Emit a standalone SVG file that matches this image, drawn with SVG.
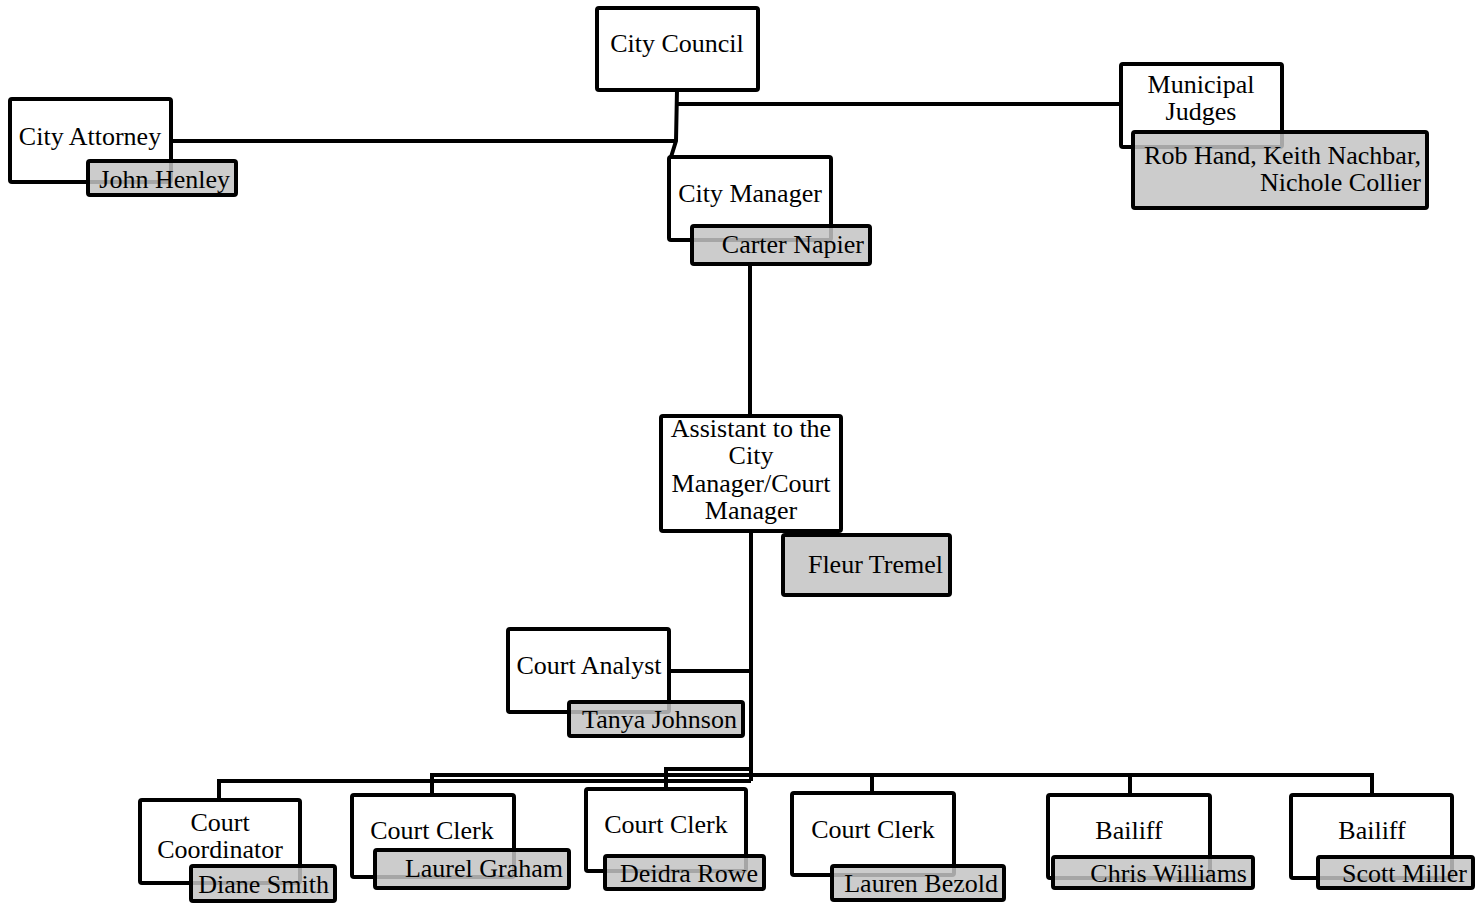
<svg xmlns="http://www.w3.org/2000/svg" width="1483" height="903" viewBox="0 0 1483 903">
<style>
.box{fill:#fff;stroke:#000;stroke-width:4}
.name{fill:#c3c3c3;fill-opacity:0.85;stroke:#000;stroke-width:4}
.t{font-family:"Liberation Serif","Times New Roman",serif;font-size:26px;fill:#000}
.c{text-anchor:middle}
.e{text-anchor:end}
.ln{fill:none;stroke:#000;stroke-width:4}
</style>
<rect width="1483" height="903" fill="#fff"/>
<g id="connectors">
<path class="ln" d="M677 90 L676 141 L671 157"/>
<path class="ln" d="M171 141 H676"/>
<path class="ln" d="M677 104 H1121"/>
<path class="ln" d="M750 264 V416"/>
<path class="ln" d="M751 531 V781"/>
<path class="ln" d="M669 671 H751"/>
<path class="ln" d="M219 800 V781 H751"/>
<path class="ln" d="M432 795 V775 H751"/>
<path class="ln" d="M666 789 V769 H751"/>
<path class="ln" d="M751 775 H1372 V795"/>
<path class="ln" d="M872 775 V793"/>
<path class="ln" d="M1130 775 V795"/>
</g>
<g id="city-council">
<rect class="box" x="597" y="8" width="161" height="82" rx="2"/>
<text class="t c" x="677" y="52">City Council</text>
</g>
<g id="city-attorney">
<rect class="box" x="10" y="99" width="161" height="83" rx="2"/>
<text class="t c" x="90" y="145">City Attorney</text>
<rect class="name" x="88" y="161" width="148" height="34" rx="2"/>
<text class="t e" x="230" y="188">John Henley</text>
</g>
<g id="municipal-judges">
<rect class="box" x="1121" y="64" width="161" height="83" rx="2"/>
<text class="t c" x="1201" y="93">Municipal</text>
<text class="t c" x="1201" y="120">Judges</text>
<rect class="name" x="1133" y="132" width="294" height="76" rx="2"/>
<text class="t e" x="1421" y="164">Rob Hand, Keith Nachbar,</text>
<text class="t e" x="1421" y="191">Nichole Collier</text>
</g>
<g id="city-manager">
<rect class="box" x="669" y="157" width="162" height="83" rx="2"/>
<text class="t c" x="750" y="202">City Manager</text>
<rect class="name" x="692" y="226" width="178" height="38" rx="2"/>
<text class="t e" x="864" y="253">Carter Napier</text>
</g>
<g id="assistant">
<rect class="box" x="661" y="416" width="180" height="115" rx="2"/>
<text class="t c" x="751" y="437">Assistant to the</text>
<text class="t c" x="751" y="464">City</text>
<text class="t c" x="751" y="492">Manager/Court</text>
<text class="t c" x="751" y="519">Manager</text>
<rect class="name" x="783" y="535" width="167" height="60" rx="2"/>
<text class="t e" x="943" y="573">Fleur Tremel</text>
</g>
<g id="court-analyst">
<rect class="box" x="508" y="629" width="161" height="83" rx="2"/>
<text class="t c" x="589" y="674">Court Analyst</text>
<rect class="name" x="569" y="702" width="174" height="34" rx="2"/>
<text class="t e" x="737" y="728">Tanya Johnson</text>
</g>
<g id="court-coordinator">
<rect class="box" x="140" y="800" width="160" height="83" rx="2"/>
<text class="t c" x="220" y="831">Court</text>
<text class="t c" x="220" y="858">Coordinator</text>
<rect class="name" x="191" y="866" width="144" height="35" rx="2"/>
<text class="t e" x="329" y="893">Diane Smith</text>
</g>
<g id="court-clerk-1">
<rect class="box" x="352" y="795" width="162" height="82" rx="2"/>
<text class="t c" x="432" y="839">Court Clerk</text>
<rect class="name" x="375" y="850" width="194" height="38" rx="2"/>
<text class="t e" x="563" y="877">Laurel Graham</text>
</g>
<g id="court-clerk-2">
<rect class="box" x="586" y="789" width="160" height="82" rx="2"/>
<text class="t c" x="666" y="833">Court Clerk</text>
<rect class="name" x="605" y="856" width="159" height="33" rx="2"/>
<text class="t e" x="758" y="882">Deidra Rowe</text>
</g>
<g id="court-clerk-3">
<rect class="box" x="792" y="793" width="162" height="82" rx="2"/>
<text class="t c" x="873" y="838">Court Clerk</text>
<rect class="name" x="832" y="866" width="172" height="34" rx="2"/>
<text class="t e" x="998" y="892">Lauren Bezold</text>
</g>
<g id="bailiff-1">
<rect class="box" x="1048" y="795" width="162" height="83" rx="2"/>
<text class="t c" x="1129" y="839">Bailiff</text>
<rect class="name" x="1053" y="857" width="200" height="31" rx="2"/>
<text class="t e" x="1247" y="882">Chris Williams</text>
</g>
<g id="bailiff-2">
<rect class="box" x="1291" y="795" width="161" height="83" rx="2"/>
<text class="t c" x="1372" y="839">Bailiff</text>
<rect class="name" x="1318" y="857" width="155" height="31" rx="2"/>
<text class="t e" x="1467" y="882">Scott Miller</text>
</g>
</svg>
